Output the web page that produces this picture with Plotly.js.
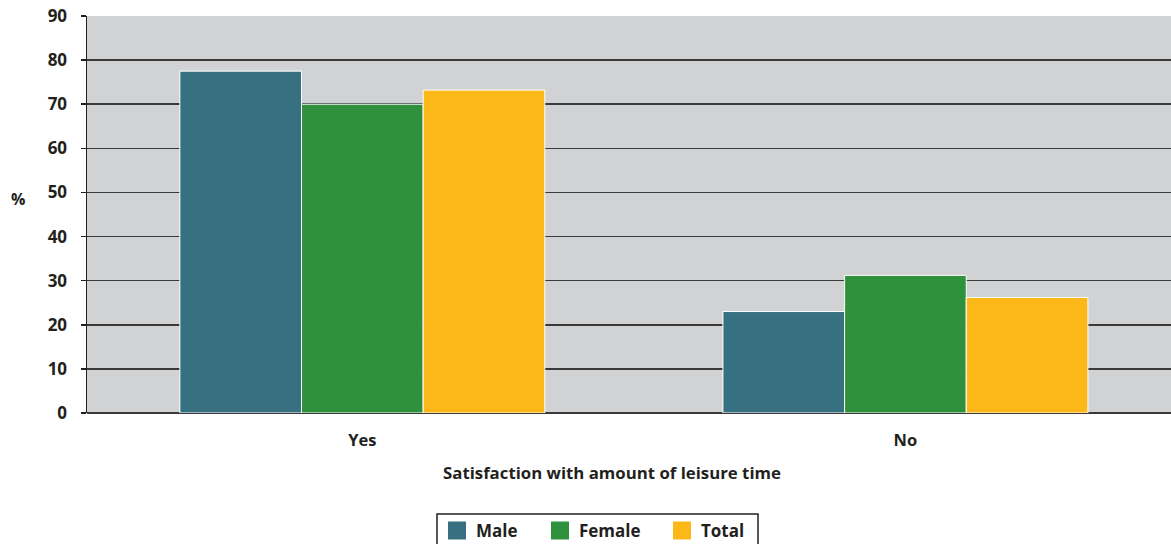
<!DOCTYPE html>
<html>
<head>
<meta charset="utf-8">
<script src="https://cdn.plot.ly/plotly-3.0.1.min.js"></script>
<style>html,body{margin:0;padding:0;background:#fff;}#chart{width:1171px;height:544px;}</style>
</head>
<body>
<div id="chart"></div>
<script>
const categories = ["Yes", "No"];
const seriesNames = ["Male", "Female", "Total"];
const male = [77.5, 23.0];
const female = [70.0, 31.2];
const total = [73.2, 26.2];
const yTicks = [0, 10, 20, 30, 40, 50, 60, 70, 80, 90];
const colors = ["#377080", "#30913c", "#fbb818"];
const values = [male, female, total];

const FONT = "Open Sans, Lato, sans-serif";
const TXT = "#231f20";
const W = 1171, H = 544;
const M = {l: 87, r: 0, t: 16, b: 131};
const plotW = W - M.l - M.r, plotH = H - M.t - M.b;
const px2x = px => (px - M.l) / plotW;
const py2y = py => (H - M.b - py) / plotH;

const traces = seriesNames.map((n, i) => ({
  type: "bar",
  name: n,
  x: categories,
  y: values[i],
  marker: {color: colors[i], line: {color: "#ffffff", width: 1}},
  hoverinfo: "none",
  showlegend: false
}));

// manual legend (box, swatches, labels)
const legendItemLeft = [448, 551, 673];
const shapes = [{
  type: "rect", xref: "paper", yref: "paper",
  x0: px2x(437), x1: px2x(758), y0: py2y(548), y1: py2y(514),
  line: {color: TXT, width: 1.5}, fillcolor: "#ffffff", layer: "above"
}];
const annotations = [
  {text: "%", xref: "paper", yref: "paper", x: px2x(18), y: py2y(199), xanchor: "center", yanchor: "middle", showarrow: false,
   font: {family: FONT, size: 16, color: TXT, weight: "bold"}},
  {text: "Satisfaction with amount of leisure time", xref: "paper", yref: "paper", x: px2x(612), y: py2y(472), xanchor: "center", yanchor: "middle", showarrow: false,
   font: {family: FONT, size: 16.8, color: TXT, weight: "bold"}}
];
seriesNames.forEach((n, i) => {
  const x0 = legendItemLeft[i];
  shapes.push({
    type: "rect", xref: "paper", yref: "paper",
    x0: px2x(x0), x1: px2x(x0 + 18), y0: py2y(539.5), y1: py2y(521.5),
    line: {width: 0}, fillcolor: colors[i], layer: "above"
  });
  annotations.push({
    text: n, xref: "paper", yref: "paper", x: px2x(x0 + 26), y: py2y(530.5),
    xanchor: "left", yanchor: "middle", showarrow: false,
    font: {family: FONT, size: 17, color: TXT, weight: "bold"}
  });
});

const layout = {
  width: W, height: H,
  margin: {l: M.l, r: M.r, t: M.t, b: M.b, pad: 0},
  paper_bgcolor: "#ffffff",
  plot_bgcolor: "#d1d2d4",
  barmode: "group",
  bargap: 0.328,
  bargroupgap: 0,
  font: {family: FONT, size: 17, color: TXT, weight: "bold"},
  showlegend: false,
  xaxis: {
    type: "category",
    range: [-0.507, 1.489],
    showgrid: false,
    showline: false,
    ticks: "",
    tickfont: {family: FONT, size: 16.5, color: TXT, weight: "bold"},
    ticklabelstandoff: 15,
    zeroline: false,
    automargin: false
  },
  yaxis: {
    range: [0, 90],
    tickvals: yTicks,
    ticktext: yTicks.map(String),
    showgrid: true,
    gridcolor: "#3a3a3a",
    gridwidth: 1.5,
    showline: true,
    linecolor: TXT,
    linewidth: 1.5,
    ticks: "outside",
    ticklen: 5,
    tickwidth: 1.5,
    tickcolor: TXT,
    ticklabelstandoff: 10,
    zeroline: true,
    zerolinecolor: "#3a3a3a",
    zerolinewidth: 1.5,
    automargin: false,
    tickfont: {family: FONT, size: 17, color: TXT, weight: "bold"}
  },
  shapes: shapes,
  annotations: annotations
};

Plotly.newPlot("chart", traces, layout, {displayModeBar: false, staticPlot: true});
</script>
</body>
</html>
